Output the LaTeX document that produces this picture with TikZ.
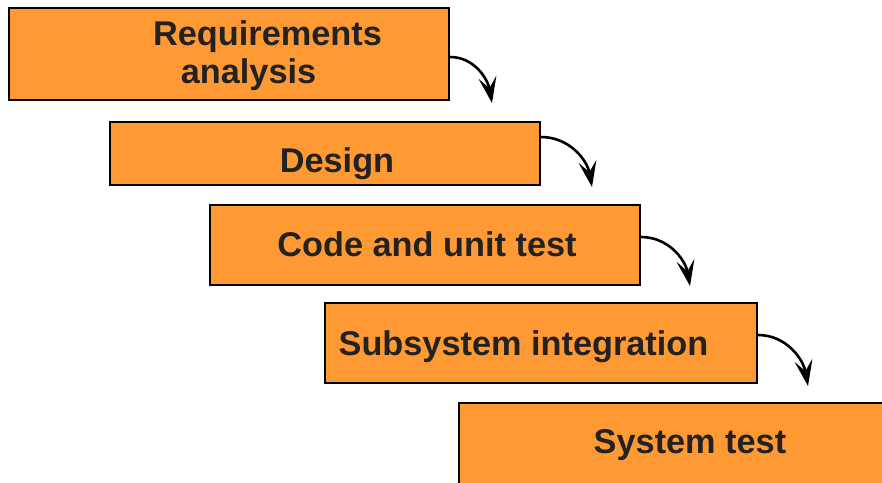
\documentclass[tikz,border=0pt]{standalone}
\usepackage{fontspec}
\setmainfont{Liberation Sans}
\usetikzlibrary{arrows.meta}
\definecolor{boxfill}{HTML}{FF9933}
\definecolor{txt}{HTML}{222222}
\begin{document}
\begin{tikzpicture}[x=1pt,y=-1pt,
  stage/.style={draw=black,line width=2.6pt,fill=boxfill},
  lbl/.style={font=\bfseries\fontsize{34.3}{38}\selectfont,text=txt,inner sep=0pt,anchor=base,align=center},
  flow/.style={line width=2.6pt,-{Stealth[length=26pt,width=18pt,inset=11pt]}}]
\useasboundingbox (0,0) rectangle (882,482);
\clip (0,0) rectangle (882,482);
\path[stage] (9,8) rectangle (449,100);
\path[stage] (110,122) rectangle (540,185);
\path[stage] (210,205) rectangle (640,285);
\path[stage] (325,303) rectangle (757,383);
\path[stage] (459,403) rectangle (890,492);
\node[lbl] (t1) at (267.5,83) {Requirements\\\hspace*{-38pt}analysis};
\node[lbl] (t2) at (337,172) {Design};
\node[lbl] (t3) at (427,256) {Code and unit test};
\node[lbl] (t4) at (523.5,355) {Subsystem integration};
\node[lbl] (t5) at (690,453) {System test};
\coordinate (s1) at (450,57);  \coordinate (e1) at (492,103);
\coordinate (s2) at (541,137); \coordinate (e2) at (592,187);
\coordinate (s3) at (641,237); \coordinate (e3) at (690,286);
\coordinate (s4) at (758,335); \coordinate (e4) at (808,386);
\draw[flow] (s1) to[out=0,in=100] (e1);
\draw[flow] (s2) to[out=0,in=100] (e2);
\draw[flow] (s3) to[out=0,in=100] (e3);
\draw[flow] (s4) to[out=0,in=100] (e4);
\end{tikzpicture}
\end{document}
